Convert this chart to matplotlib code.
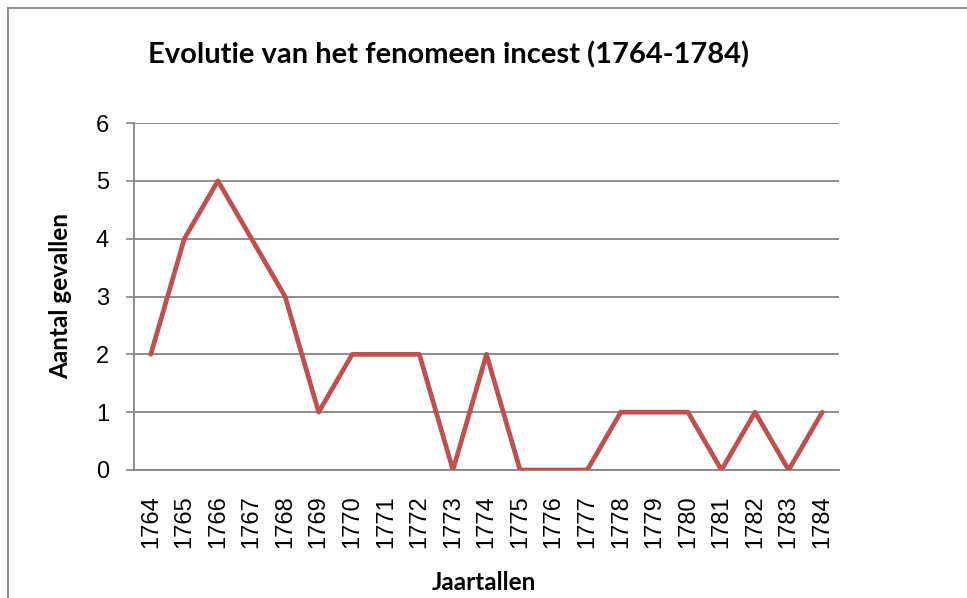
import matplotlib.pyplot as plt
from matplotlib.lines import Line2D

# Data
years = [str(y) for y in range(1764, 1785)]
cases = [2, 4, 5, 4, 3, 1, 2, 2, 2, 0, 2, 0, 0, 0, 1, 1, 1, 0, 1, 0, 1]
y_ticks = [0, 1, 2, 3, 4, 5, 6]

plt.rcParams['font.family'] = ['Lato', 'DejaVu Sans']

W, H = 967, 598
fig = plt.figure(figsize=(W / 100, H / 100), dpi=100, facecolor='white')
ax = fig.add_axes([134 / W, 128 / H, (839 - 134) / W, (470 - 123) / H])

x = list(range(len(years)))
ax.plot(x, cases, color='#C0504D', linewidth=3.4,
        solid_joinstyle='round', solid_capstyle='round', zorder=3)

ax.set_xlim(-0.5, len(years) - 0.5)
ax.set_ylim(0, 6)
ax.set_yticks(y_ticks)
ax.set_xticks(x)
ax.set_xticklabels(years, rotation=90, fontsize=17, fontfamily='Liberation Sans')
ax.tick_params(axis='y', labelsize=17, length=6, width=1.2, color='#868686', pad=12)
ax.tick_params(axis='x', length=0, pad=18)
for lbl in ax.get_yticklabels():
    lbl.set_fontfamily('Liberation Sans')

ax.grid(axis='y', color='#868686', linewidth=1.3)
ax.set_axisbelow(True)
for side in ['top', 'right']:
    ax.spines[side].set_visible(False)
ax.spines['left'].set_color('#868686')
ax.spines['left'].set_linewidth(1.3)
ax.spines['bottom'].set_color('#868686')
ax.spines['bottom'].set_linewidth(1.3)

fig.text(449 / W, 1 - 55 / H, 'Evolutie van het fenomeen incest (1764-1784)',
         ha='center', va='center', fontsize=21, fontweight='bold')
fig.text(61 / W, 1 - 296 / H, 'Aantal gevallen', rotation=90,
         ha='center', va='center', fontsize=17.5, fontweight='bold')
fig.text(484 / W, 1 - 583 / H, 'Jaartallen',
         ha='center', va='center', fontsize=17.5, fontweight='bold')

# chart border (left and top edges visible)
fig.add_artist(Line2D([8 / W, 8 / W], [0, 1 - 8 / H], color='#868686', linewidth=1.3))
fig.add_artist(Line2D([8 / W, 1], [1 - 8 / H, 1 - 8 / H], color='#868686', linewidth=1.3))

plt.savefig('out.png', dpi=100, facecolor='white')
